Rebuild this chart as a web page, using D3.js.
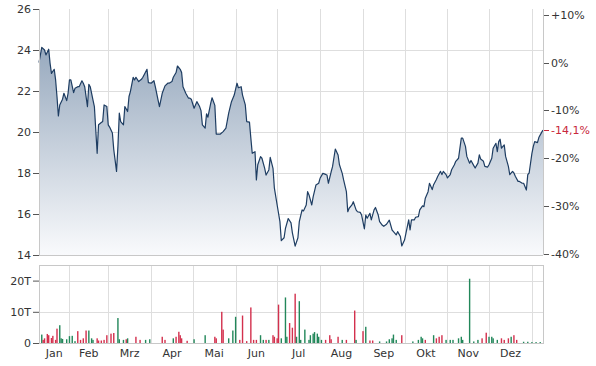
<!DOCTYPE html>
<html><head><meta charset="utf-8">
<script src="https://cdn.jsdelivr.net/npm/d3@7"></script>
<style>body{margin:0;background:#fff}svg{display:block;font-family:"DejaVu Sans",Verdana,sans-serif}</style>
</head><body><svg id="c" width="596" height="366"></svg>
<script>
const priceDates = [
"2023-01-10","2023-01-12","2023-01-14","2023-01-15","2023-01-17","2023-01-18","2023-01-19","2023-01-21","2023-01-22","2023-01-23",
"2023-01-24","2023-01-25","2023-01-27","2023-01-28","2023-01-30","2023-01-31","2023-02-01","2023-02-02","2023-02-04","2023-02-05",
"2023-02-07","2023-02-08","2023-02-10","2023-02-11","2023-02-12","2023-02-14","2023-02-15","2023-02-16","2023-02-18","2023-02-19",
"2023-02-21","2023-02-22","2023-02-24","2023-02-25","2023-02-26","2023-02-28","2023-03-01","2023-03-02","2023-03-04","2023-03-05",
"2023-03-07","2023-03-08","2023-03-09","2023-03-10","2023-03-12","2023-03-13","2023-03-15","2023-03-16","2023-03-17","2023-03-19",
"2023-03-20","2023-03-21","2023-03-23","2023-03-25","2023-03-26","2023-03-29","2023-03-30","2023-04-01","2023-04-03","2023-04-04",
"2023-04-06","2023-04-07","2023-04-09","2023-04-11","2023-04-13","2023-04-14","2023-04-16","2023-04-17","2023-04-19","2023-04-20",
"2023-04-22","2023-04-23","2023-04-24","2023-04-26","2023-04-28","2023-04-29","2023-04-30","2023-05-02","2023-05-04","2023-05-06",
"2023-05-07","2023-05-08","2023-05-10","2023-05-11","2023-05-12","2023-05-14","2023-05-15","2023-05-17","2023-05-18","2023-05-21",
"2023-05-23","2023-05-25","2023-05-27","2023-05-29","2023-05-31","2023-06-02","2023-06-03","2023-06-05","2023-06-06","2023-06-08",
"2023-06-09","2023-06-11","2023-06-12","2023-06-13","2023-06-15","2023-06-16","2023-06-17","2023-06-19","2023-06-20","2023-06-22",
"2023-06-23","2023-06-25","2023-06-26","2023-06-28","2023-06-29","2023-07-01","2023-07-03","2023-07-04","2023-07-06","2023-07-07",
"2023-07-09","2023-07-11","2023-07-12","2023-07-14","2023-07-16","2023-07-17","2023-07-19","2023-07-20","2023-07-22","2023-07-23",
"2023-07-24","2023-07-26","2023-07-27","2023-07-29","2023-07-31","2023-08-01","2023-08-03","2023-08-05","2023-08-06","2023-08-07",
"2023-08-09","2023-08-10","2023-08-12","2023-08-14","2023-08-15","2023-08-17","2023-08-18","2023-08-20","2023-08-21","2023-08-22",
"2023-08-24","2023-08-25","2023-08-27","2023-08-28","2023-08-30","2023-08-31","2023-09-02","2023-09-03","2023-09-04","2023-09-06",
"2023-09-07","2023-09-09","2023-09-10","2023-09-12","2023-09-13","2023-09-15","2023-09-16","2023-09-18","2023-09-20","2023-09-22",
"2023-09-23","2023-09-25","2023-09-26","2023-09-28","2023-09-29","2023-10-01","2023-10-02","2023-10-04","2023-10-05","2023-10-06",
"2023-10-08","2023-10-09","2023-10-11","2023-10-12","2023-10-14","2023-10-15","2023-10-16","2023-10-18","2023-10-19","2023-10-21",
"2023-10-22","2023-10-24","2023-10-25","2023-10-27","2023-10-28","2023-10-29","2023-10-31","2023-11-01","2023-11-03","2023-11-04",
"2023-11-06","2023-11-07","2023-11-09","2023-11-10","2023-11-11","2023-11-12","2023-11-14","2023-11-15","2023-11-17","2023-11-18",
"2023-11-20","2023-11-21","2023-11-23","2023-11-24","2023-11-25","2023-11-27","2023-11-28","2023-11-30","2023-12-01","2023-12-03",
"2023-12-04","2023-12-06","2023-12-07","2023-12-08","2023-12-09","2023-12-10","2023-12-12","2023-12-13","2023-12-15","2023-12-16",
"2023-12-18","2023-12-19","2023-12-20","2023-12-22","2023-12-23","2023-12-25","2023-12-26","2023-12-28","2023-12-29","2023-12-30",
"2024-01-01","2024-01-02","2024-01-03","2024-01-05","2024-01-06","2024-01-08","2024-01-09"];
const priceValues = [
23.39,24.13,24.0,23.76,24.04,23.35,22.86,23.06,22.54,21.72,
20.78,21.32,21.6,21.89,21.53,21.89,22.54,22.54,21.92,22.13,
22.21,22.21,22.5,22.38,22.21,21.24,22.33,22.21,21.56,21.24,
18.96,20.35,20.46,20.51,21.32,21.24,20.35,20.24,19.95,19.14,
18.08,19.3,20.92,20.51,20.35,21.24,21.0,21.73,21.97,22.67,
22.54,22.67,22.46,22.57,22.67,23.06,22.41,22.38,22.5,22.21,
21.56,21.24,21.89,22.25,22.38,22.38,22.46,22.67,22.9,23.22,
23.06,22.9,22.21,21.89,21.65,21.65,21.6,21.16,21.48,21.24,
21.04,20.35,20.19,20.89,20.72,21.4,21.67,21.3,19.9,19.9,
20.02,20.19,20.92,21.48,21.8,22.38,22.16,22.21,21.8,21.32,
20.51,20.48,19.7,18.96,19.04,17.66,18.4,18.8,18.72,18.23,
17.9,18.15,18.76,18.23,17.26,16.44,15.63,14.7,14.84,15.3,
15.78,15.57,15.08,14.43,14.84,15.63,16.2,16.15,16.44,17.09,
16.93,16.44,16.84,17.41,17.5,17.74,17.98,17.93,17.9,17.5,
18.06,18.31,19.17,18.88,18.4,17.98,17.66,17.09,16.11,16.28,
16.44,16.6,16.2,16.11,16.08,15.95,15.27,15.95,15.79,16.03,
15.71,16.2,16.32,15.95,15.63,15.45,15.4,15.5,15.7,15.22,
15.14,14.98,15.14,14.9,14.44,14.73,15.06,15.71,15.22,15.71,
15.71,15.84,15.87,16.2,16.4,16.36,16.77,17.09,17.5,17.19,
17.43,17.68,17.84,18.08,17.92,18.08,17.92,17.76,17.92,18.16,
18.4,18.57,18.72,19.21,19.7,19.7,19.3,18.81,18.48,18.61,
18.36,18.24,18.48,18.89,18.68,18.57,18.32,18.29,18.4,18.72,
19.21,19.45,19.04,19.53,19.65,19.21,19.37,18.81,18.32,17.92,
18.08,18.0,17.84,17.59,17.59,17.5,17.5,17.17,17.92,18.0,
18.96,19.3,19.53,19.48,19.73,19.98,20.09];

const volDates = [
"2023-01-12","2023-01-13","2023-01-14","2023-01-16","2023-01-17","2023-01-19","2023-01-20","2023-01-22","2023-01-23","2023-01-25",
"2023-01-26","2023-01-27","2023-01-30","2023-02-01","2023-02-03","2023-02-05","2023-02-07","2023-02-09","2023-02-11","2023-02-13",
"2023-02-15","2023-02-17","2023-02-18","2023-02-21","2023-02-22","2023-02-24","2023-02-26","2023-02-28","2023-03-03","2023-03-05",
"2023-03-08","2023-03-09","2023-03-12","2023-03-14","2023-03-15","2023-03-21","2023-03-24","2023-03-28","2023-03-31","2023-04-09",
"2023-04-11","2023-04-17","2023-04-19","2023-04-21","2023-04-22","2023-04-23","2023-04-27","2023-05-02","2023-05-10","2023-05-17",
"2023-05-18","2023-05-22","2023-05-23","2023-05-27","2023-05-30","2023-06-01","2023-06-04","2023-06-06","2023-06-09","2023-06-12",
"2023-06-14","2023-06-16","2023-06-19","2023-06-21","2023-06-23","2023-06-25","2023-06-28","2023-06-29","2023-07-01","2023-07-02",
"2023-07-04","2023-07-07","2023-07-08","2023-07-10","2023-07-12","2023-07-14","2023-07-15","2023-07-17","2023-07-18","2023-07-21",
"2023-07-24","2023-07-25","2023-07-27","2023-07-28","2023-07-30","2023-07-31","2023-08-02","2023-08-05","2023-08-08","2023-08-09",
"2023-08-14","2023-08-17","2023-08-20","2023-08-26","2023-08-27","2023-09-01","2023-09-03","2023-09-06","2023-09-08","2023-09-13",
"2023-09-18","2023-09-20","2023-09-22","2023-09-23","2023-09-25","2023-09-29","2023-10-07","2023-10-11","2023-10-13","2023-10-14",
"2023-10-16","2023-10-22","2023-10-24","2023-10-26","2023-10-28","2023-10-31","2023-11-03","2023-11-05","2023-11-09","2023-11-11",
"2023-11-12","2023-11-17","2023-11-20","2023-11-23","2023-11-26","2023-11-29","2023-12-01","2023-12-03","2023-12-04","2023-12-07",
"2023-12-10","2023-12-12","2023-12-15","2023-12-17","2023-12-19","2023-12-21","2023-12-26","2023-12-29","2024-01-01","2024-01-04",
"2024-01-07"];
const volValues = [
2.7,1.0,1.5,2.9,2.5,1.6,2.3,1.0,4.6,5.7,
1.5,1.3,1.2,2.2,2.3,0.6,3.8,1.0,1.5,4.0,
4.0,1.5,1.0,1.5,0.8,0.8,1.0,2.5,3.0,3.2,
8.0,1.2,1.0,1.2,1.5,2.0,1.0,1.0,1.2,2.0,
1.0,1.5,2.0,3.6,2.5,1.5,0.7,1.2,2.5,2.0,
1.5,10.0,4.3,1.5,4.0,8.4,1.0,8.8,0.6,11.4,
1.0,1.0,2.5,1.0,1.0,1.0,2.5,2.0,1.5,12.3,
1.5,14.6,2.0,6.4,4.9,15.8,2.0,13.4,1.0,4.3,
1.0,2.5,3.0,3.5,3.0,2.0,1.0,1.0,2.5,1.2,
2.0,1.0,1.0,10.4,1.0,3.8,5.2,0.8,0.8,0.5,
0.5,1.2,1.5,2.7,1.0,2.5,0.5,1.0,2.0,1.5,
1.0,2.5,1.5,2.0,2.5,1.0,1.0,1.0,1.5,2.0,
1.0,20.6,0.5,1.0,1.5,3.3,2.0,2.0,1.5,1.0,
1.5,1.0,1.5,2.0,2.5,1.0,0.4,0.4,0.3,0.3,
0.3];
const volUp = [
1,0,0,0,0,0,0,0,0,1,
1,1,1,1,1,1,0,0,0,0,
1,1,1,0,0,0,0,0,0,0,
1,1,1,0,1,0,0,1,1,0,
0,1,0,0,0,0,0,1,1,0,
0,0,0,1,1,1,0,0,0,0,
0,0,1,1,0,1,0,0,0,0,
1,1,1,0,0,0,1,1,1,1,
1,1,1,1,1,1,1,0,0,0,
0,1,0,0,1,0,1,0,0,1,
1,1,1,1,1,0,1,1,1,1,
0,1,0,0,0,1,1,1,1,1,
1,1,1,1,0,0,1,1,1,1,
0,0,0,1,0,0,1,1,1,1,
1];

const priceTicks = [14, 16, 18, 20, 22, 24, 26];
const pctTicks = [10, 0, -10, -20, -30, -40];
const volTicks = [0, 10, 20];
const monthNames = ["Jan","Feb","Mrz","Apr","Mai","Jun","Jul","Aug","Sep","Okt","Nov","Dez"];
const dateRange = ["2023-01-10", "2024-01-09"];

const parse = d3.timeParse("%Y-%m-%d");
const svg = d3.select("#c");
const L = 39, R = 543, T = 9, B = 255, VT = 265, VB = 343;

const x = d3.scaleTime().domain(dateRange.map(parse)).range([L, R]);
const y = d3.scaleLinear().domain([14, 26]).range([B, T]);
const yv = d3.scaleLinear().domain([0, 25]).range([VB, VT]);

const prices = priceDates.map((d, i) => ({date: parse(d), v: priceValues[i]}));
const vols = volDates.map((d, i) => ({date: parse(d), v: volValues[i], up: volUp[i]}));
const base = priceValues[0];
const last = priceValues[priceValues.length - 1];

const grid = "#dedede", axisCol = "#c8c8c8", txt = "#333";

// month boundaries
const [d0, d1] = x.domain();
const monthStarts = d3.timeMonth.range(d3.timeMonth.ceil(d0), d1);

// gradient
const defs = svg.append("defs");
const grad = defs.append("linearGradient").attr("id", "g")
  .attr("gradientUnits", "userSpaceOnUse").attr("x1", 0).attr("x2", 0)
  .attr("y1", y(24.2)).attr("y2", B);
grad.append("stop").attr("offset", 0).attr("stop-color", "#97a9be");
grad.append("stop").attr("offset", 1).attr("stop-color", "#f9fafc");

// grids (price panel)
const g1 = svg.append("g");
g1.selectAll(".vg").data(monthStarts).join("line")
  .attr("x1", d => Math.round(x(d)) + 0.5).attr("x2", d => Math.round(x(d)) + 0.5)
  .attr("y1", T).attr("y2", B).attr("stroke", grid);
g1.selectAll(".hg").data(priceTicks.filter(t => t > 14 && t < 26)).join("line")
  .attr("x1", L).attr("x2", R)
  .attr("y1", d => Math.round(y(d)) + 0.5).attr("y2", d => Math.round(y(d)) + 0.5)
  .attr("stroke", grid);

// area + line
svg.append("path").datum(prices)
  .attr("d", d3.area().x(d => x(d.date)).y0(B).y1(d => y(d.v)))
  .attr("fill", "url(#g)");
svg.append("path").datum(prices)
  .attr("d", d3.line().x(d => x(d.date)).y(d => y(d.v)))
  .attr("fill", "none").attr("stroke", "#1e3d62").attr("stroke-width", 1.2)
  .attr("stroke-linejoin", "round");

// price panel frame
svg.append("line").attr("x1", L + 0.5).attr("x2", L + 0.5).attr("y1", T).attr("y2", B).attr("stroke", axisCol);
svg.append("line").attr("x1", R + 0.5).attr("x2", R + 0.5).attr("y1", T).attr("y2", B).attr("stroke", axisCol);
svg.append("line").attr("x1", L).attr("x2", R).attr("y1", B + 0.5).attr("y2", B + 0.5).attr("stroke", axisCol);

// left price axis
const la = svg.append("g").attr("transform", `translate(${L},0)`)
  .call(d3.axisLeft(y).tickValues(priceTicks).tickSize(6).tickPadding(2).tickFormat(d3.format("d")));
la.select(".domain").remove();
la.selectAll("line").attr("stroke", "#555");
la.selectAll("text").attr("fill", txt).style("font-size", "11px").style("font-family", "DejaVu Sans, Verdana, sans-serif");

// right percentage axis
const loc = d3.formatLocale({decimal: ",", thousands: ".", grouping: [3], currency: ["", "€"]});
const pctFmt = p => (p > 0 ? "+" : p < 0 ? "-" : "") + Math.abs(p) + "%";
const ra = svg.append("g");
pctTicks.forEach(p => {
  const yy = Math.round(y(base * (1 + p / 100))) + 0.5;
  ra.append("line").attr("x1", R + 1).attr("x2", R + 6).attr("y1", yy).attr("y2", yy).attr("stroke", "#555");
  ra.append("text").attr("x", R + 8).attr("y", yy).attr("dy", "0.35em").attr("fill", txt)
    .style("font-size", "11px").text(pctFmt(p));
});
const lastPct = (last / base - 1) * 100;
const ly = Math.round(y(last)) + 0.5;
ra.append("line").attr("x1", R + 1).attr("x2", R + 6).attr("y1", ly).attr("y2", ly).attr("stroke", "#c8283c");
ra.append("text").attr("x", R + 8).attr("y", ly).attr("dy", "0.35em").attr("fill", "#c8283c")
  .style("font-size", "11px").text("-" + loc.format(".1f")(Math.abs(lastPct)) + "%");

// volume panel grid
const g2 = svg.append("g");
g2.selectAll("line.v").data(monthStarts).join("line")
  .attr("x1", d => Math.round(x(d)) + 0.5).attr("x2", d => Math.round(x(d)) + 0.5)
  .attr("y1", VT).attr("y2", VB).attr("stroke", grid);
g2.selectAll("line.h").data(volTicks.filter(t => t > 0)).join("line")
  .attr("x1", L).attr("x2", R)
  .attr("y1", d => Math.round(yv(d)) + 0.5).attr("y2", d => Math.round(yv(d)) + 0.5)
  .attr("stroke", grid);
svg.append("rect").attr("x", L + 0.5).attr("y", VT + 0.5).attr("width", R - L).attr("height", VB - VT)
  .attr("fill", "none").attr("stroke", axisCol);

// volume bars
svg.append("g").selectAll("rect").data(vols).join("rect")
  .attr("x", d => x(d.date) - 0.7).attr("width", 1.4)
  .attr("y", d => yv(d.v)).attr("height", d => VB - yv(d.v))
  .attr("fill", d => d.up ? "#22875a" : "#d3304d");

// volume axis
const va = svg.append("g").attr("transform", `translate(${L},0)`)
  .call(d3.axisLeft(yv).tickValues(volTicks).tickSize(6).tickPadding(2).tickFormat(d => d === 0 ? "0" : d + "T"));
va.select(".domain").remove();
va.selectAll("line").attr("stroke", "#555");
va.selectAll("text").attr("fill", txt).style("font-size", "11px").style("font-family", "DejaVu Sans, Verdana, sans-serif");

// month labels centred in visible part of each month
const bounds = [d0, ...monthStarts, d1];
for (let i = 0; i < bounds.length - 1; i++) {
  const a = x(bounds[i]), b = x(bounds[i + 1]);
  if (b - a < 20) continue;
  svg.append("text").attr("x", (a + b) / 2).attr("y", 357).attr("text-anchor", "middle")
    .attr("fill", txt).style("font-size", "11px").text(monthNames[bounds[i].getMonth()]);
}
</script></body></html>
